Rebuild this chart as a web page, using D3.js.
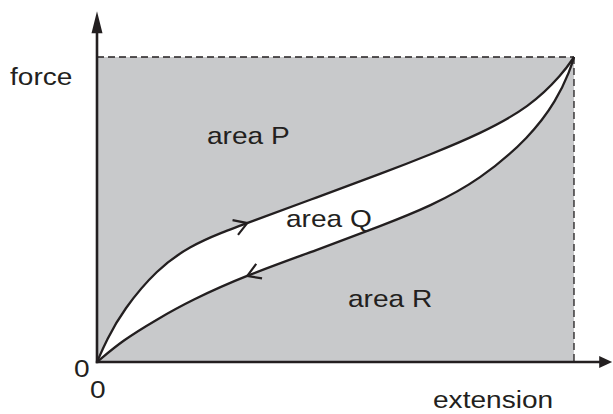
<!DOCTYPE html>
<html>
<head>
<meta charset="utf-8">
<script src="https://cdn.jsdelivr.net/npm/d3@7"></script>
<style>
  body { margin: 0; background: #fff; }
  svg text { font-family: "Liberation Sans", Arial, sans-serif; fill: #231f20; }
</style>
</head>
<body>
<svg id="chart"></svg>
<script>
// loading curve (upper) and unloading curve (lower), in fractions of max extension / max force
const loadX = [0, 0.02, 0.0545, 0.126, 0.195, 0.264, 0.314, 0.461, 0.600, 0.698, 0.803, 0.908, 0.977, 1];
const loadF = [0, 0.072, 0.170, 0.305, 0.380, 0.426, 0.455, 0.540, 0.620, 0.680, 0.748, 0.836, 0.946, 1];
const unloadX = [0, 0.0545, 0.126, 0.195, 0.314, 0.461, 0.600, 0.698, 0.803, 0.908, 0.964, 0.992, 1];
const unloadF = [0, 0.072, 0.140, 0.201, 0.285, 0.367, 0.449, 0.510, 0.597, 0.738, 0.859, 0.957, 1];

const width = 613;
const height = 414;
const ink = "#231f20";
const grey = "#c8c9cb";
const sx = 1.17; // labels are a bit stretched sideways

const svg = d3.select("#chart")
    .attr("width", width)
    .attr("height", height);

const x = d3.scaleLinear().domain([0, 1]).range([97, 574]);
const y = d3.scaleLinear().domain([0, 1]).range([362, 57]);

const load = loadX.map((v, i) => [v, loadF[i]]);
const unload = unloadX.map((v, i) => [v, unloadF[i]]);

// grey box up to max force / max extension
svg.append("rect")
    .attr("x", x(0))
    .attr("y", y(1))
    .attr("width", x(1) - x(0))
    .attr("height", y(0) - y(1))
    .attr("fill", grey);

const area = d3.area()
    .x(d => x(d[0]))
    .y0(y(0))
    .y1(d => y(d[1]))
    .curve(d3.curveBasis);

// white under the loading curve, grey again under the unloading curve
svg.append("path").attr("d", area(load)).attr("fill", "#fff");
svg.append("path").attr("d", area(unload)).attr("fill", grey);

// dashed guides
svg.append("line")
    .attr("x1", x(0)).attr("x2", x(1))
    .attr("y1", y(1)).attr("y2", y(1))
    .attr("stroke", ink).attr("stroke-width", 1.3)
    .attr("stroke-dasharray", "7,4");
svg.append("line")
    .attr("x1", x(1)).attr("x2", x(1))
    .attr("y1", y(1)).attr("y2", y(0))
    .attr("stroke", ink).attr("stroke-width", 1.3)
    .attr("stroke-dasharray", "7,4");

const line = d3.line()
    .x(d => x(d[0]))
    .y(d => y(d[1]))
    .curve(d3.curveBasis);

const upper = svg.append("path")
    .attr("d", line(load))
    .attr("fill", "none")
    .attr("stroke", ink)
    .attr("stroke-width", 2.3);

const lower = svg.append("path")
    .attr("d", line(unload))
    .attr("fill", "none")
    .attr("stroke", ink)
    .attr("stroke-width", 2.3);

// open chevron on a curve at given x fraction; dir = 1 forward, -1 backward
function chevron(path, xv, dir) {
    const node = path.node();
    const total = node.getTotalLength();
    const px = x(xv);
    let lo = 0, hi = total;
    for (let k = 0; k < 40; k++) {
        const mid = (lo + hi) / 2;
        if (node.getPointAtLength(mid).x < px) lo = mid; else hi = mid;
    }
    const p = node.getPointAtLength(lo);
    const a = node.getPointAtLength(Math.max(0, lo - 3));
    const b = node.getPointAtLength(Math.min(total, lo + 3));
    let ang = Math.atan2(b.y - a.y, b.x - a.x);
    if (dir < 0) ang += Math.PI;
    const len = 15, spread = 0.55;
    const back = ang + Math.PI;
    const p1 = [p.x + len * Math.cos(back - spread), p.y + len * Math.sin(back - spread)];
    const p2 = [p.x + len * Math.cos(back + spread), p.y + len * Math.sin(back + spread)];
    svg.append("path")
        .attr("d", `M${p1}L${p.x},${p.y}L${p2}`)
        .attr("fill", "none")
        .attr("stroke", ink)
        .attr("stroke-width", 2.2);
}

chevron(upper, 0.315, 1);
chevron(lower, 0.315, -1);

// axes with filled arrow heads
const yTop = y(1.15);
const xEnd = x(1.08);
svg.append("line")
    .attr("x1", x(0)).attr("x2", x(0))
    .attr("y1", y(0) + 1.2).attr("y2", yTop + 18)
    .attr("stroke", ink).attr("stroke-width", 2.6);
svg.append("path")
    .attr("d", `M${x(0)},${yTop}L${x(0) - 5.5},${yTop + 22}L${x(0) + 5.5},${yTop + 22}Z`)
    .attr("fill", ink);
svg.append("line")
    .attr("x1", x(0) - 1.2).attr("x2", xEnd - 10)
    .attr("y1", y(0)).attr("y2", y(0))
    .attr("stroke", ink).attr("stroke-width", 2.6);
svg.append("path")
    .attr("d", `M${xEnd},${y(0)}L${xEnd - 13},${y(0) - 6}L${xEnd - 13},${y(0) + 6}Z`)
    .attr("fill", ink);

// labels
const labels = [
    { t: "force", x: 10, y: 85 },
    { t: "area P", x: 207, y: 144 },
    { t: "area Q", x: 286, y: 227 },
    { t: "area R", x: 348, y: 307 },
    { t: "0", x: 74, y: 377 },
    { t: "0", x: 90, y: 398 },
    { t: "extension", x: 433, y: 408 }
];

svg.selectAll("text.lbl")
    .data(labels)
    .enter().append("text")
    .attr("class", "lbl")
    .attr("font-size", 24)
    .attr("transform", d => `translate(${d.x},${d.y}) scale(${sx},1)`)
    .text(d => d.t);
</script>
</body>
</html>
